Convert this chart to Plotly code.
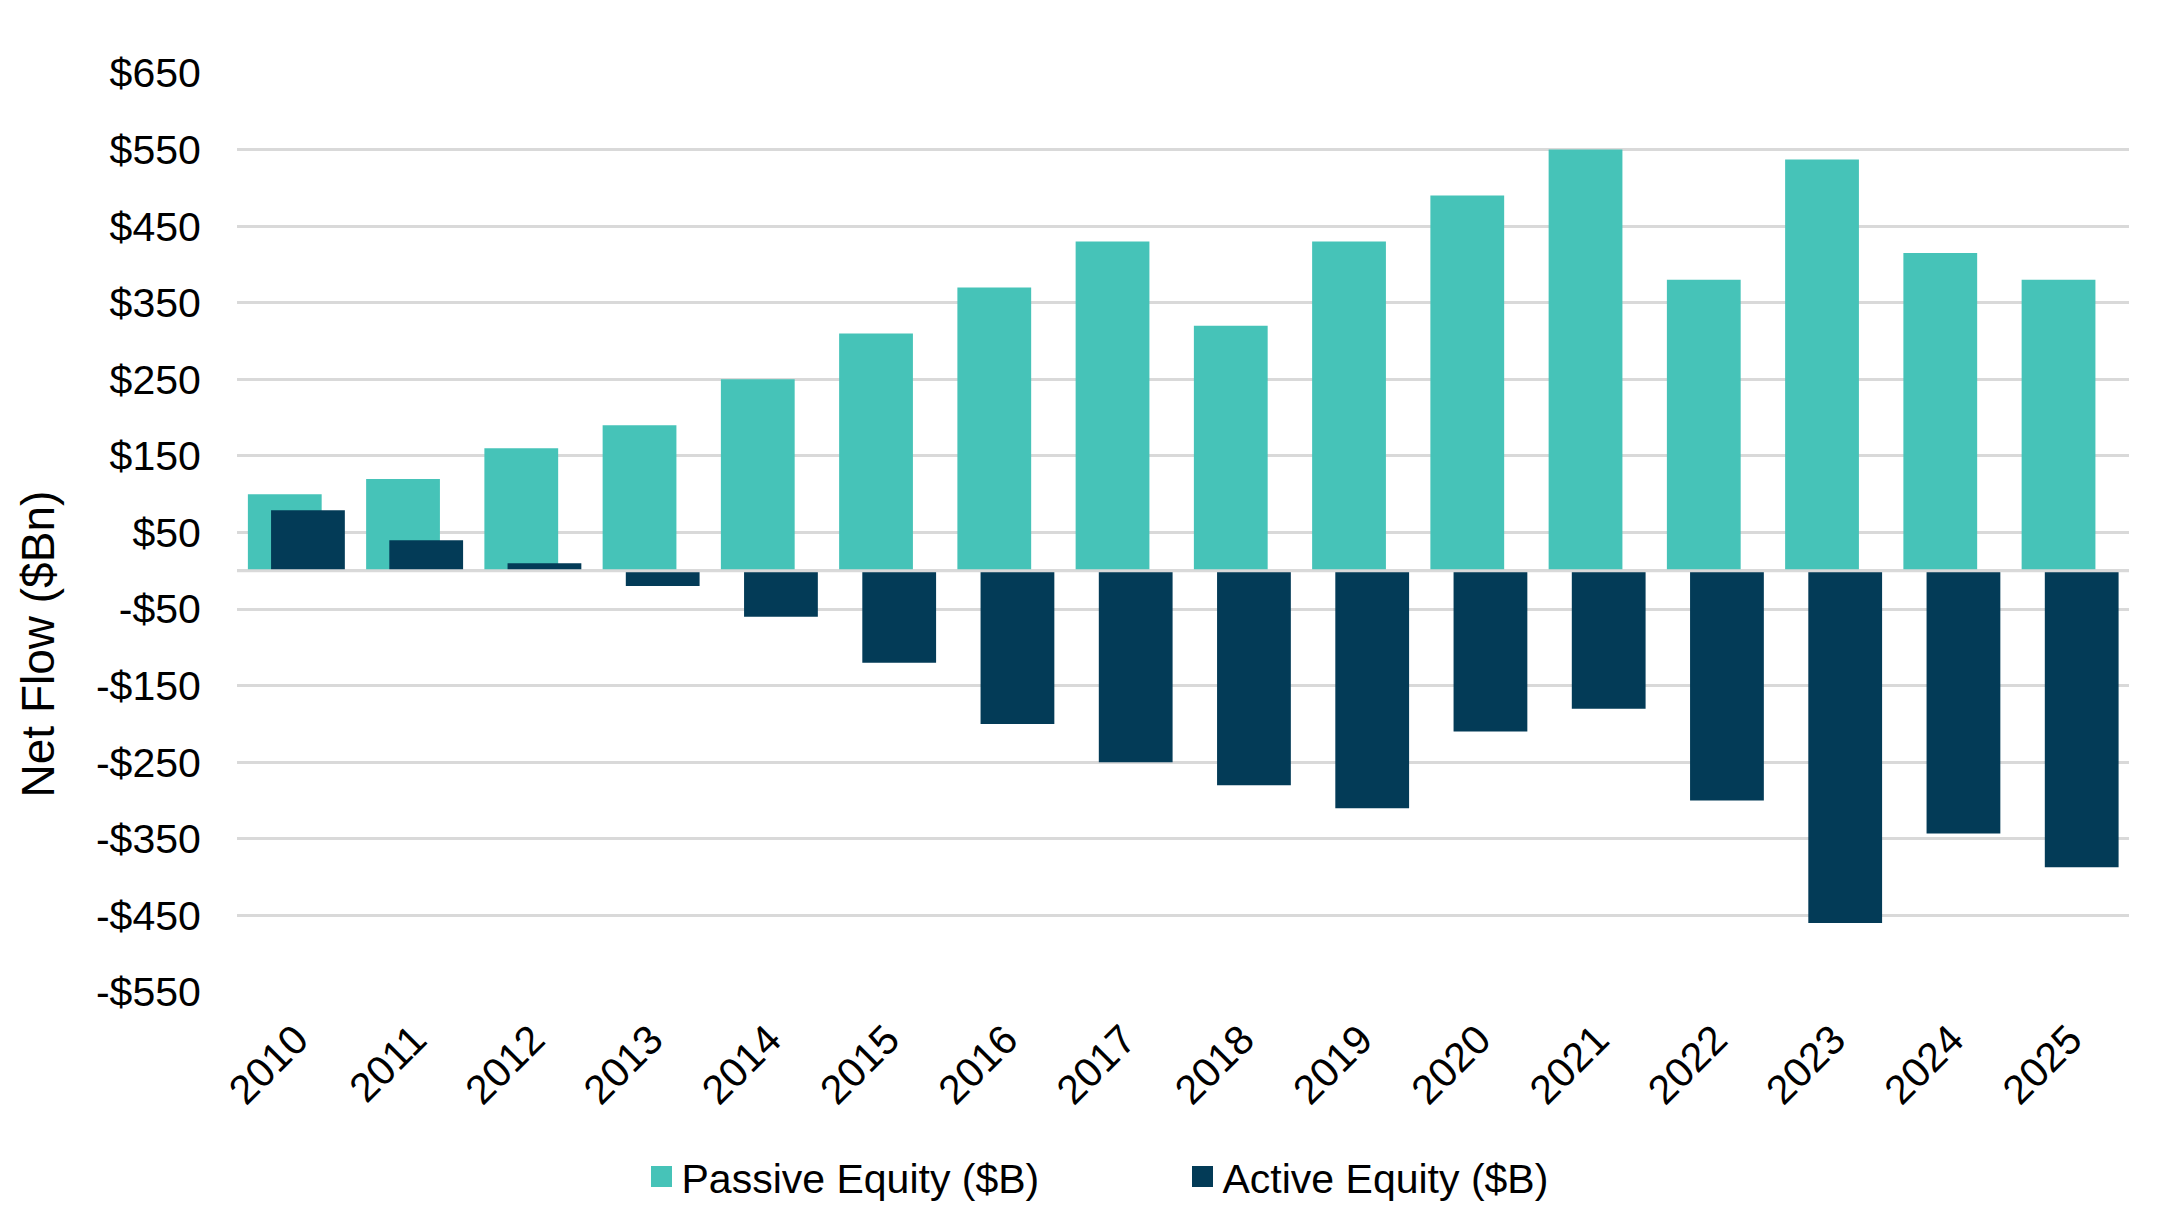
import plotly.graph_objects as go

# Chart data
years = ["2010", "2011", "2012", "2013", "2014", "2015", "2016", "2017",
         "2018", "2019", "2020", "2021", "2022", "2023", "2024", "2025"]
passive_flows = [100, 120, 160, 190, 250, 310, 370, 430,
                 320, 430, 490, 550, 380, 537, 415, 380]
active_flows = [79, 40, 10, -20, -60, -120, -200, -250,
                -280, -310, -210, -180, -300, -460, -343, -387]
tick_values = [-550, -450, -350, -250, -150, -50, 50, 150, 250, 350, 450, 550, 650]
tick_labels = ["-$550", "-$450", "-$350", "-$250", "-$150", "-$50", "$50",
               "$150", "$250", "$350", "$450", "$550", "$650"]

teal = "#46C3B8"
navy = "#033B57"
grid = "#D9D9D9"
font_family = "Liberation Sans, Arial, sans-serif"

fig = go.Figure()

# bars (legend entries drawn by the marker traces below, for bigger swatches)
fig.add_trace(go.Bar(
    x=years,
    y=passive_flows,
    name="Passive Equity ($B)",
    marker=dict(color=teal, line=dict(width=0)),
    width=0.624,
    offset=-0.408,
    showlegend=False,
))
fig.add_trace(go.Bar(
    x=years,
    y=active_flows,
    name="Active Equity ($B)",
    marker=dict(color=navy, line=dict(width=0)),
    width=0.624,
    offset=-0.212,
    showlegend=False,
))
for name, color in [("Passive Equity ($B)", teal), ("Active Equity ($B)", navy)]:
    fig.add_trace(go.Scatter(
        x=[None],
        y=[None],
        mode="markers",
        name=name,
        marker=dict(symbol="square", size=16, color=color,
                    line=dict(color=color, width=5)),
        hoverinfo="skip",
    ))

fig.update_layout(
    width=2178,
    height=1214,
    barmode="overlay",
    plot_bgcolor="white",
    paper_bgcolor="white",
    margin=dict(l=229, r=57, t=65, b=228),
    font=dict(family=font_family, size=41, color="black"),
    showlegend=True,
    legend=dict(
        orientation="h",
        x=0.2138,
        xanchor="left",
        y=-0.2012,
        yanchor="middle",
        font=dict(size=41),
        entrywidth=496,
        traceorder="normal",
    ),
    xaxis=dict(
        type="category",
        tickangle=-45,
        showgrid=False,
        showline=False,
        ticks="outside",
        ticklen=6,
        tickcolor="white",
        tickfont=dict(size=41),
    ),
    yaxis=dict(
        range=[-550, 650],
        tickvals=tick_values,
        ticktext=tick_labels,
        showgrid=True,
        gridcolor=grid,
        gridwidth=3,
        zeroline=True,
        zerolinecolor=grid,
        zerolinewidth=3,
        showline=False,
        ticks="outside",
        ticklen=27,
        tickcolor="white",
        tickfont=dict(size=41),
    ),
    annotations=[
        dict(
            text="Net Flow ($Bn)",
            textangle=-90,
            xref="paper",
            yref="paper",
            x=-0.1053,
            y=0.379,
            xanchor="center",
            yanchor="middle",
            showarrow=False,
            font=dict(size=46, color="black"),
        )
    ],
    shapes=[
        dict(
            type="line",
            xref="paper",
            yref="y",
            x0=0,
            x1=1,
            y0=0,
            y1=0,
            line=dict(color=grid, width=3),
            layer="above",
        )
    ],
)

fig.write_html("out.html")
